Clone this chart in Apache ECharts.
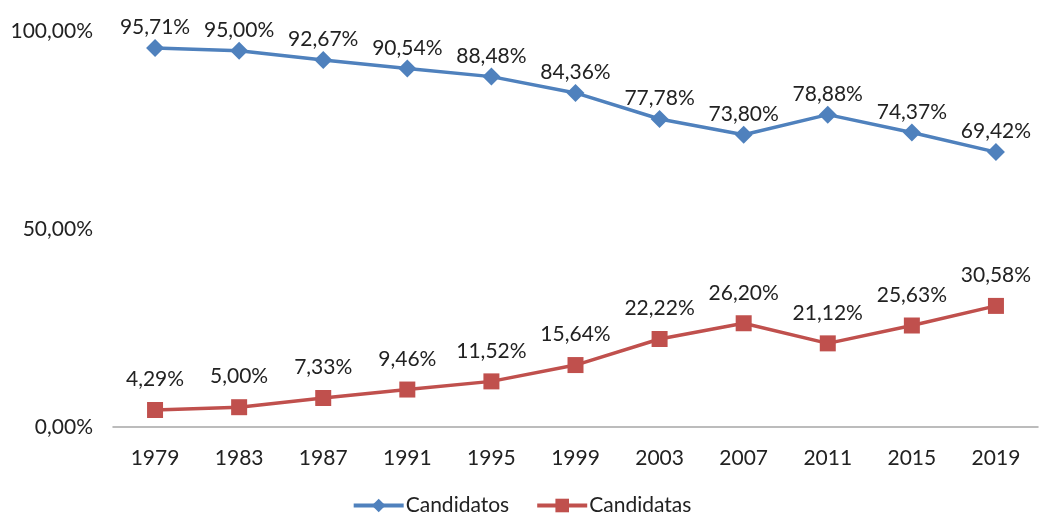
<!DOCTYPE html>
<html>
<head>
<meta charset="utf-8">
<script src="https://cdn.jsdelivr.net/npm/echarts@6/dist/echarts.min.js"></script>
<style>
html, body { margin: 0; padding: 0; background: #fff; }
#chartDiv { width: 1043px; height: 515px; }
</style>
</head>
<body>
<div id="chartDiv"></div>
<script>
var years = ['1979', '1983', '1987', '1991', '1995', '1999', '2003', '2007', '2011', '2015', '2019'];
var candidatos = [95.71, 95.00, 92.67, 90.54, 88.48, 84.36, 77.78, 73.80, 78.88, 74.37, 69.42];
var candidatas = [4.29, 5.00, 7.33, 9.46, 11.52, 15.64, 22.22, 26.20, 21.12, 25.63, 30.58];

function pct(v) {
    return v.toFixed(2).replace('.', ',') + '%';
}

var fontName = 'Lato';
var chartDiv = echarts.init(document.getElementById('chartDiv'));
var option = {
    animation: false,
    textStyle: { fontFamily: fontName },
    grid: { left: 113, right: 5, top: 31, bottom: 88 },
    legend: {
        bottom: -6,
        left: 'center',
        itemWidth: 50,
        itemHeight: 17,
        itemGap: 26,
        lineStyle: { width: 4 },
        textStyle: { fontSize: 21, color: '#222', fontFamily: fontName, padding: [0, 0, 0, -3] },
        data: ['Candidatos', 'Candidatas']
    },
    xAxis: {
        type: 'category',
        data: years,
        boundaryGap: true,
        axisLine: { lineStyle: { color: '#a6a6a6', width: 1.5 } },
        axisTick: { show: false },
        axisLabel: { fontSize: 21, color: '#222', margin: 21 }
    },
    yAxis: {
        type: 'value',
        min: 0,
        max: 100,
        interval: 50,
        splitLine: { show: false },
        axisLine: { show: false },
        axisTick: { show: false },
        axisLabel: { fontSize: 21, color: '#222', margin: 20, formatter: function (v) { return pct(v); } }
    },
    series: [
        {
            name: 'Candidatos',
            type: 'line',
            data: candidatos,
            symbol: 'diamond',
            symbolSize: 18,
            itemStyle: { color: '#4F81BD' },
            lineStyle: { width: 3.5, color: '#4F81BD' },
            label: {
                show: true, position: 'top', distance: 1,
                fontSize: 21, color: '#222',
                formatter: function (p) { return pct(p.value); }
            }
        },
        {
            name: 'Candidatas',
            type: 'line',
            data: candidatas,
            symbol: 'rect',
            symbolSize: 16,
            itemStyle: { color: '#C0504D' },
            lineStyle: { width: 3.5, color: '#C0504D' },
            label: {
                show: true, position: 'top', distance: 12,
                fontSize: 21, color: '#222',
                formatter: function (p) { return pct(p.value); }
            }
        }
    ]
};
chartDiv.setOption(option);
</script>
</body>
</html>
